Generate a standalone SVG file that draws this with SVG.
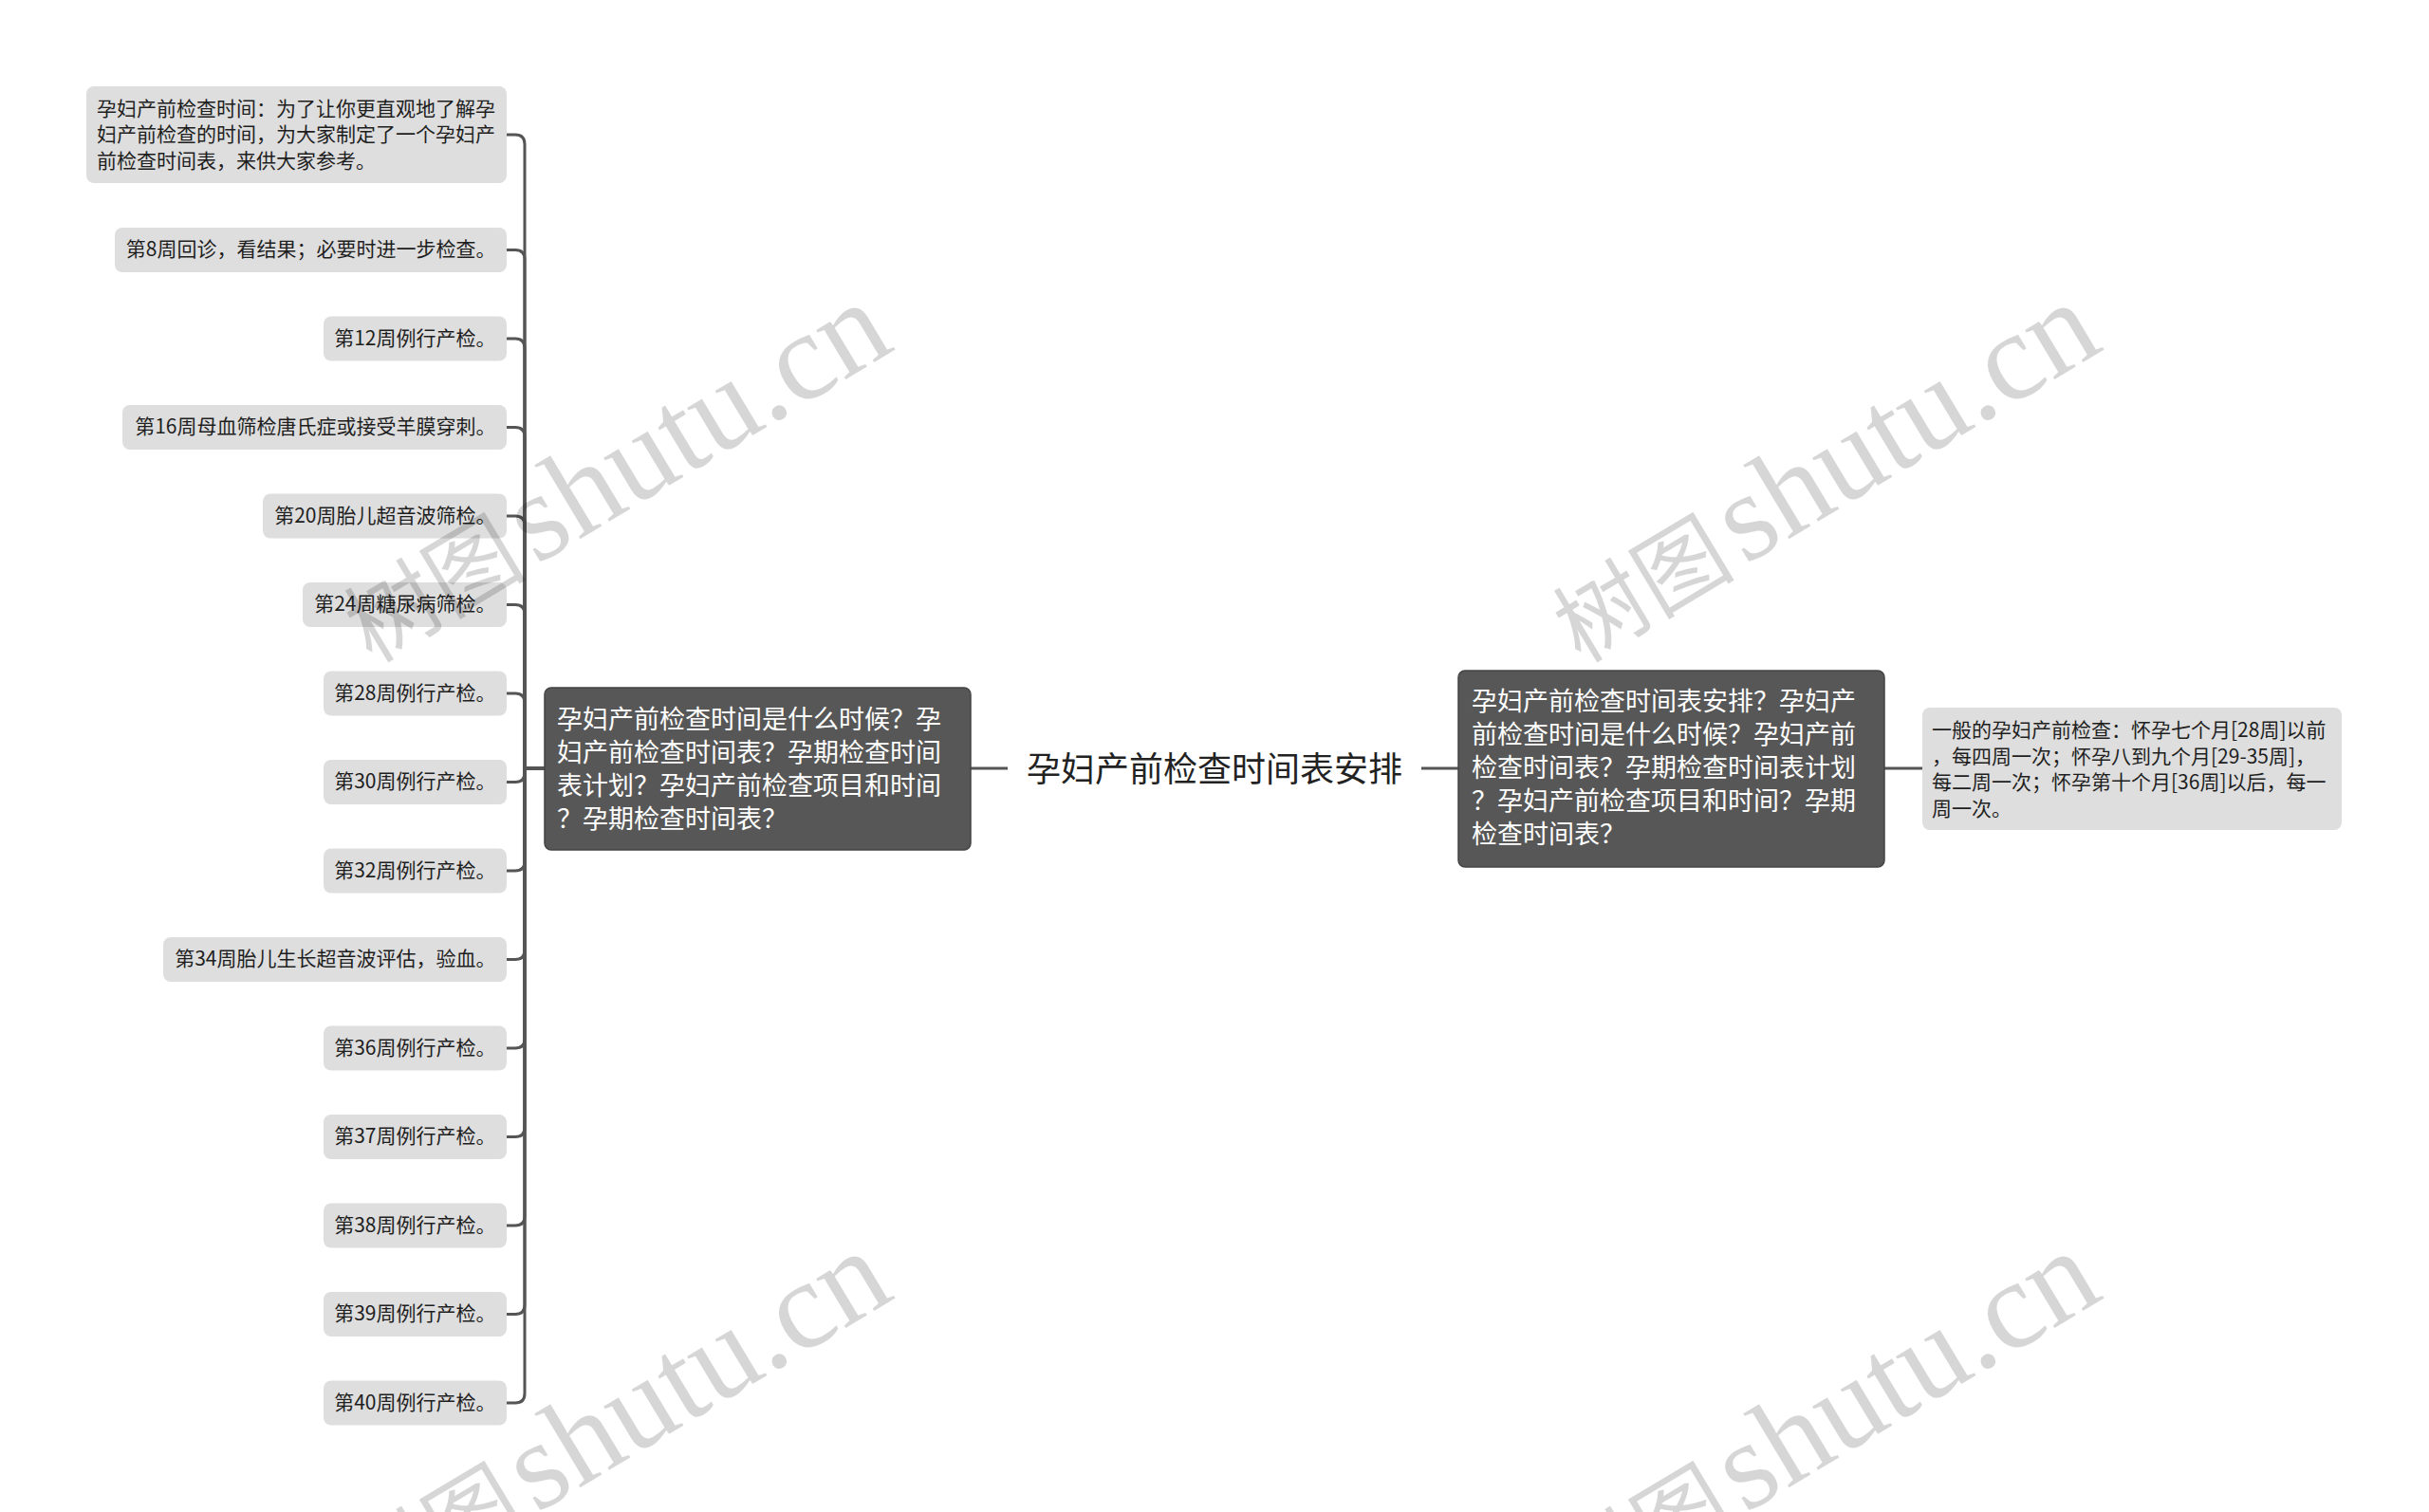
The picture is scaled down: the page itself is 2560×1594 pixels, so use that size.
<svg xmlns="http://www.w3.org/2000/svg" width="2560" height="1594" viewBox="0 0 2560 1594">
<style>
.leaf rect{fill:#dedede}
.leaf text{font-family:"Noto Sans CJK SC","Liberation Sans",sans-serif;font-size:21px;fill:#1e1e1e;dominant-baseline:central}
.leaf text.r{text-anchor:end}
.main rect{fill:#575757;stroke:#444444;stroke-width:1.5}
.main text{font-family:"Noto Sans CJK SC","Liberation Sans",sans-serif;font-size:27px;fill:#ffffff;dominant-baseline:central}
.title text{font-family:"Noto Sans CJK SC","Liberation Sans",sans-serif;font-size:36px;fill:#222222;dominant-baseline:central}
#connectors path{fill:none;stroke:#555555;stroke-width:3;stroke-linecap:butt}
.wm{font-family:"Liberation Serif","Noto Sans CJK SC",serif;font-size:96px;fill:#000000;fill-opacity:0.16}
.wm .sp{font-size:40px}
.wm .lat{font-size:132px}
</style>
<rect width="2560" height="1594" fill="#ffffff"/>
<g id="connectors">
<path d="M574,810 H553 V152 Q553,142 543,142 H534"/>
<path d="M574,810 H553 V273.5 Q553,263.5 543,263.5 H534"/>
<path d="M574,810 H553 V367 Q553,357 543,357 H534"/>
<path d="M574,810 H553 V460.5 Q553,450.5 543,450.5 H534"/>
<path d="M574,810 H553 V554 Q553,544 543,544 H534"/>
<path d="M574,810 H553 V647.5 Q553,637.5 543,637.5 H534"/>
<path d="M574,810 H553 V741 Q553,731 543,731 H534"/>
<path d="M574,810 H553 V814.5 Q553,824.5 543,824.5 H534"/>
<path d="M574,810 H553 V908 Q553,918 543,918 H534"/>
<path d="M574,810 H553 V1001.5 Q553,1011.5 543,1011.5 H534"/>
<path d="M574,810 H553 V1095 Q553,1105 543,1105 H534"/>
<path d="M574,810 H553 V1188.5 Q553,1198.5 543,1198.5 H534"/>
<path d="M574,810 H553 V1282 Q553,1292 543,1292 H534"/>
<path d="M574,810 H553 V1375.5 Q553,1385.5 543,1385.5 H534"/>
<path d="M574,810 H553 V1469 Q553,1479 543,1479 H534"/>
<path d="M1023,810 H1062"/>
<path d="M1498,810 H1537"/>
<path d="M1986,810 H2026"/>
</g>
<g id="root" class="title"><text x="1082" y="808">孕妇产前检查时间表安排</text></g>
<g id="main-left" class="main">
<rect x="574" y="725" width="449" height="171" rx="7"/>
<text x="587" y="756">孕妇产前检查时间是什么时候？孕</text>
<text x="587" y="791">妇产前检查时间表？孕期检查时间</text>
<text x="587" y="826">表计划？孕妇产前检查项目和时间</text>
<text x="587" y="861">？孕期检查时间表？</text>
</g>
<g id="main-right" class="main">
<rect x="1537" y="707" width="449" height="207" rx="7"/>
<text x="1551" y="737">孕妇产前检查时间表安排？孕妇产</text>
<text x="1551" y="772">前检查时间是什么时候？孕妇产前</text>
<text x="1551" y="807">检查时间表？孕期检查时间表计划</text>
<text x="1551" y="842">？孕妇产前检查项目和时间？孕期</text>
<text x="1551" y="877">检查时间表？</text>
</g>
<g id="leaf-right" class="leaf">
<rect x="2026" y="746" width="442" height="129" rx="8"/>
<text x="2036" y="768">一般的孕妇产前检查：怀孕七个月[28周]以前</text>
<text x="2036" y="795.5">，每四周一次；怀孕八到九个月[29-35周]，</text>
<text x="2036" y="823">每二周一次；怀孕第十个月[36周]以后，每一</text>
<text x="2036" y="850.5">周一次。</text>
</g>
<g id="leaf-intro" class="leaf">
<rect x="91" y="91" width="443" height="102" rx="8"/>
<text x="102" y="112.5">孕妇产前检查时间：为了让你更直观地了解孕</text>
<text x="102" y="140">妇产前检查的时间，为大家制定了一个孕妇产</text>
<text x="102" y="167.5">前检查时间表，来供大家参考。</text>
</g>
<g id="leaf-w8" class="leaf"><rect x="121" y="240" width="413" height="47" rx="8"/><text class="r" x="522.5" y="261">第8周回诊，看结果；必要时进一步检查。</text></g>
<g id="leaf-w12" class="leaf"><rect x="341" y="333.5" width="193" height="47" rx="8"/><text class="r" x="522.5" y="354.5">第12周例行产检。</text></g>
<g id="leaf-w16" class="leaf"><rect x="129" y="427" width="405" height="47" rx="8"/><text class="r" x="522.5" y="448">第16周母血筛检唐氏症或接受羊膜穿刺。</text></g>
<g id="leaf-w20" class="leaf"><rect x="277" y="520.5" width="257" height="47" rx="8"/><text class="r" x="522.5" y="541.5">第20周胎儿超音波筛检。</text></g>
<g id="leaf-w24" class="leaf"><rect x="319" y="614" width="215" height="47" rx="8"/><text class="r" x="522.5" y="635">第24周糖尿病筛检。</text></g>
<g id="leaf-w28" class="leaf"><rect x="341" y="707.5" width="193" height="47" rx="8"/><text class="r" x="522.5" y="728.5">第28周例行产检。</text></g>
<g id="leaf-w30" class="leaf"><rect x="341" y="801" width="193" height="47" rx="8"/><text class="r" x="522.5" y="822">第30周例行产检。</text></g>
<g id="leaf-w32" class="leaf"><rect x="341" y="894.5" width="193" height="47" rx="8"/><text class="r" x="522.5" y="915.5">第32周例行产检。</text></g>
<g id="leaf-w34" class="leaf"><rect x="172" y="988" width="362" height="47" rx="8"/><text class="r" x="522.5" y="1009">第34周胎儿生长超音波评估，验血。</text></g>
<g id="leaf-w36" class="leaf"><rect x="341" y="1081.5" width="193" height="47" rx="8"/><text class="r" x="522.5" y="1102.5">第36周例行产检。</text></g>
<g id="leaf-w37" class="leaf"><rect x="341" y="1175" width="193" height="47" rx="8"/><text class="r" x="522.5" y="1196">第37周例行产检。</text></g>
<g id="leaf-w38" class="leaf"><rect x="341" y="1268.5" width="193" height="47" rx="8"/><text class="r" x="522.5" y="1289.5">第38周例行产检。</text></g>
<g id="leaf-w39" class="leaf"><rect x="341" y="1362" width="193" height="47" rx="8"/><text class="r" x="522.5" y="1383">第39周例行产检。</text></g>
<g id="leaf-w40" class="leaf"><rect x="341" y="1455.5" width="193" height="47" rx="8"/><text class="r" x="522.5" y="1476.5">第40周例行产检。</text></g>
<g id="watermarks">
<text class="wm" transform="translate(392,700) rotate(-31)">树图<tspan class="sp"> </tspan><tspan class="lat">shutu.cn</tspan></text>
<text class="wm" transform="translate(1666,700) rotate(-31)">树图<tspan class="sp"> </tspan><tspan class="lat">shutu.cn</tspan></text>
<text class="wm" transform="translate(392,1700) rotate(-31)">树图<tspan class="sp"> </tspan><tspan class="lat">shutu.cn</tspan></text>
<text class="wm" transform="translate(1666,1700) rotate(-31)">树图<tspan class="sp"> </tspan><tspan class="lat">shutu.cn</tspan></text>
</g>
</svg>
